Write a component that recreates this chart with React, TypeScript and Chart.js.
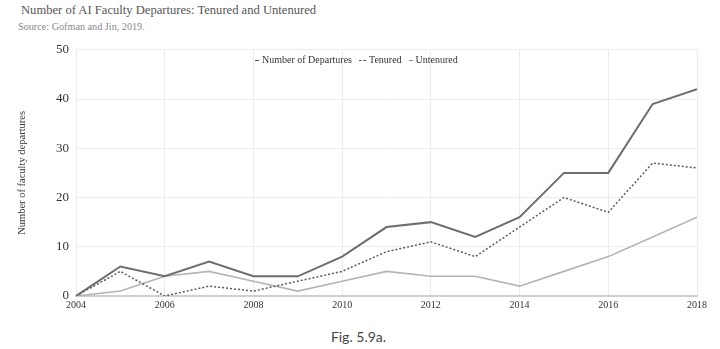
import React, { useEffect, useRef } from "react";
import { Chart, registerables } from "chart.js";

Chart.register(...registerables);

const years = [2004, 2005, 2006, 2007, 2008, 2009, 2010, 2011, 2012, 2013, 2014, 2015, 2016, 2017, 2018];
const departures = [0, 6, 4, 7, 4, 4, 8, 14, 15, 12, 16, 25, 25, 39, 42];
const tenured = [0, 5, 0, 2, 1, 3, 5, 9, 11, 8, 14, 20, 17, 27, 26];
const untenured = [0, 1, 4, 5, 3, 1, 3, 5, 4, 4, 2, 5, 8, 12, 16];

const SERIF = "'Liberation Serif', 'DejaVu Serif', serif";

export default function App() {
  const ref = useRef<HTMLCanvasElement>(null);

  useEffect(() => {
    document.body.style.margin = "0";
    const toXY = (arr: number[]) => arr.map((v, i) => ({ x: years[i], y: v }));
    const chart = new Chart(ref.current!, {
      type: "line",
      data: {
        datasets: [
          {
            label: "Number of Departures",
            data: toXY(departures),
            borderColor: "#6e6e6e",
            borderWidth: 2,
            pointRadius: 0,
            tension: 0,
          },
          {
            label: "Tenured",
            data: toXY(tenured),
            borderColor: "#5a5a5a",
            borderWidth: 1.5,
            borderDash: [2, 2],
            pointRadius: 0,
            tension: 0,
          },
          {
            label: "Untenured",
            data: toXY(untenured),
            borderColor: "#b4b4b4",
            borderWidth: 1.6,
            pointRadius: 0,
            tension: 0,
          },
        ],
      },
      options: {
        responsive: false,
        animation: false,
        layout: { padding: { top: 10, right: 13, bottom: 0, left: 0 } },
        plugins: { legend: { display: false }, tooltip: { enabled: false } },
        scales: {
          x: {
            type: "linear",
            min: 2004,
            max: 2018,
            ticks: {
              stepSize: 2,
              padding: 3,
              color: "#333",
              font: { family: SERIF, size: 10 },
              callback: (v: any) => String(v),
            },
            grid: { color: "#ececec", drawTicks: false },
            border: { color: "#cfcfcf", width: 2 },
            afterFit: (s: any) => {
              s.height = 24;
            },
          },
          y: {
            min: 0,
            max: 50,
            ticks: {
              stepSize: 10,
              padding: 7,
              color: "#333",
              font: { family: SERIF, size: 13 },
            },
            grid: { color: "#ececec", drawTicks: false },
            border: { display: false },
            title: {
              display: true,
              text: "Number of faculty departures",
              color: "#333",
              font: { family: SERIF, size: 10.5 },
              padding: { top: 16, bottom: 0 },
            },
            afterFit: (s: any) => {
              s.width = 76;
            },
          },
        },
      },
    });
    return () => chart.destroy();
  }, []);

  const seg = (w: number, style: string, color: string) => (
    <span
      style={{
        display: "inline-block",
        width: w,
        borderTop: `1.5px ${style} ${color}`,
        verticalAlign: "middle",
        marginRight: 3,
      }}
    />
  );

  return (
    <div style={{ position: "relative", width: 720, height: 349, background: "#fff", overflow: "hidden" }}>
      <div
        style={{
          position: "absolute",
          left: 21,
          top: 3,
          fontFamily: SERIF,
          fontSize: 12.6,
          color: "#555",
          whiteSpace: "nowrap",
        }}
      >
        Number of AI Faculty Departures: Tenured and Untenured
      </div>
      <div
        style={{
          position: "absolute",
          left: 18,
          top: 21,
          fontFamily: SERIF,
          fontSize: 10.2,
          color: "#888",
          whiteSpace: "nowrap",
        }}
      >
        Source: Gofman and Jin, 2019.
      </div>
      <canvas ref={ref} width={710} height={285} style={{ position: "absolute", left: 0, top: 35 }} />
      <div
        style={{
          position: "absolute",
          left: 255,
          top: 54,
          fontFamily: SERIF,
          fontSize: 10,
          color: "#333",
          whiteSpace: "nowrap",
          display: "flex",
          alignItems: "center",
          gap: 7,
        }}
      >
        <span>{seg(4, "solid", "#555")}Number of Departures</span>
        <span>{seg(7, "dashed", "#555")}Tenured</span>
        <span>{seg(4, "solid", "#888")}Untenured</span>
      </div>
      <div
        style={{
          position: "absolute",
          left: 0,
          width: 717,
          top: 328,
          textAlign: "center",
          fontFamily: "Lato, 'Noto Sans', sans-serif",
          fontSize: 14,
          color: "#444",
        }}
      >
        Fig. 5.9a.
      </div>
    </div>
  );
}
